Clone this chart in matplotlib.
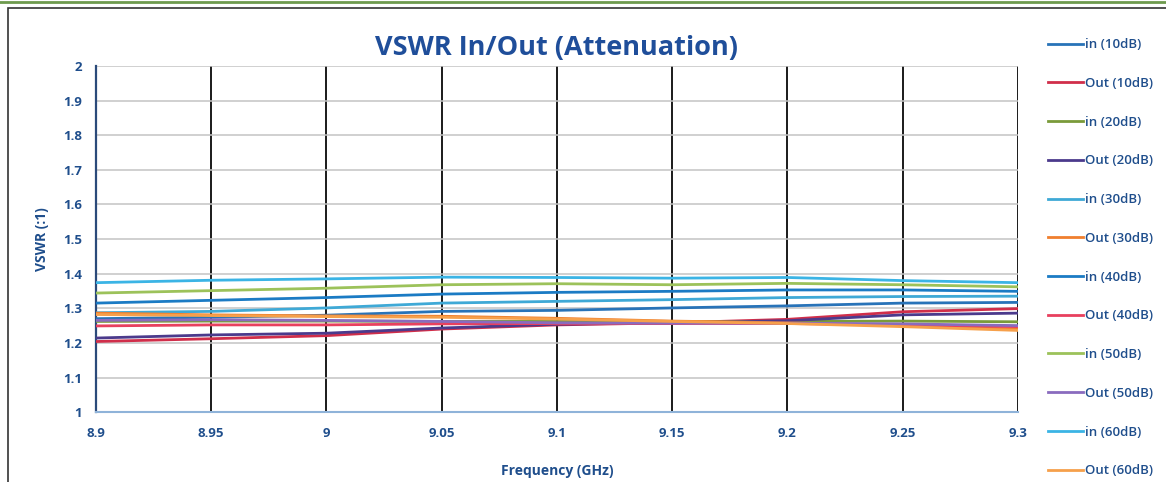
import matplotlib
matplotlib.use('Agg')
import matplotlib.pyplot as plt
from matplotlib.lines import Line2D
from matplotlib.patches import Rectangle

# Frequency points (GHz)
freq = [8.9, 8.95, 9.0, 9.05, 9.1, 9.15, 9.2, 9.25, 9.3]

# VSWR values
in_10 = [1.270, 1.274, 1.280, 1.291, 1.294, 1.301, 1.307, 1.315, 1.317]
out_10 = [1.204, 1.212, 1.221, 1.240, 1.252, 1.258, 1.268, 1.290, 1.299]
in_20 = [1.262, 1.263, 1.263, 1.262, 1.262, 1.261, 1.262, 1.263, 1.261]
out_20 = [1.214, 1.223, 1.228, 1.243, 1.254, 1.258, 1.264, 1.281, 1.286]
in_30 = [1.287, 1.291, 1.301, 1.315, 1.320, 1.325, 1.331, 1.334, 1.335]
out_30 = [1.286, 1.281, 1.278, 1.277, 1.271, 1.263, 1.258, 1.250, 1.240]
in_40 = [1.315, 1.323, 1.331, 1.341, 1.346, 1.349, 1.353, 1.353, 1.349]
out_40 = [1.249, 1.252, 1.252, 1.255, 1.256, 1.256, 1.256, 1.252, 1.247]
in_50 = [1.344, 1.351, 1.358, 1.368, 1.371, 1.368, 1.372, 1.368, 1.362]
out_50 = [1.265, 1.267, 1.265, 1.262, 1.258, 1.257, 1.257, 1.255, 1.250]
in_60 = [1.374, 1.381, 1.385, 1.390, 1.389, 1.387, 1.389, 1.380, 1.374]
out_60 = [1.282, 1.279, 1.276, 1.274, 1.269, 1.262, 1.256, 1.247, 1.236]

labels = ['in (10dB)', 'Out (10dB)', 'in (20dB)', 'Out (20dB)', 'in (30dB)', 'Out (30dB)',
          'in (40dB)', 'Out (40dB)', 'in (50dB)', 'Out (50dB)', 'in (60dB)', 'Out (60dB)']
series = [in_10, out_10, in_20, out_20, in_30, out_30,
          in_40, out_40, in_50, out_50, in_60, out_60]
colors = ['#2873B8', '#D02E4A', '#7A9A3A', '#4B3A8C', '#3FA9D6', '#F07F2E',
          '#1B7BC4', '#E8405E', '#9CC25A', '#8A6BBE', '#3BB4E5', '#F6A04B']

x_ticks = [8.9, 8.95, 9.0, 9.05, 9.1, 9.15, 9.2, 9.25, 9.3]
x_labels = ['8.9', '8.95', '9', '9.05', '9.1', '9.15', '9.2', '9.25', '9.3']
y_ticks = [1, 1.1, 1.2, 1.3, 1.4, 1.5, 1.6, 1.7, 1.8, 1.9, 2]
y_labels = ['1', '1.1', '1.2', '1.3', '1.4', '1.5', '1.6', '1.7', '1.8', '1.9', '2']

plt.rcParams['font.family'] = ['Open Sans', 'DejaVu Sans']
text_col = '#1F4E8C'

fig = plt.figure(figsize=(11.66, 4.82), dpi=100)
ax = fig.add_axes([0.0823, 0.145, 0.7907, 0.718])

# Moldura do gráfico (borda do print)
fig.add_artist(Rectangle((8 / 1166, -0.01), 1.2, 1 - 8 / 482 + 0.01, transform=fig.transFigure,
                         fill=False, edgecolor='#333333', linewidth=1.2))
fig.add_artist(Line2D([0, 1], [1 - 2 / 482, 1 - 2 / 482], transform=fig.transFigure,
                      color='#6E9A4E', linewidth=2))

for ys, lab, c in zip(series, labels, colors):
    ax.plot(freq, ys, color=c, linewidth=2, label=lab, zorder=3)

ax.set_xlim(8.9, 9.3)
ax.set_ylim(1, 2)
ax.set_xticks(x_ticks)
ax.set_xticklabels(x_labels)
ax.set_yticks(y_ticks)
ax.set_yticklabels(y_labels)

# Grade: horizontais cinza, verticais pretas
ax.yaxis.grid(True, color='#C4C4C4', linewidth=1.1, zorder=0)
ax.xaxis.grid(True, color='#1A1A1A', linewidth=1.4, zorder=1)
ax.set_axisbelow(True)

for s in ['top', 'right']:
    ax.spines[s].set_visible(False)
ax.spines['left'].set_color('#2B4A7A')
ax.spines['left'].set_linewidth(1.6)
ax.spines['bottom'].set_color('#8FB3D9')
ax.spines['bottom'].set_linewidth(1.5)
ax.tick_params(axis='x', length=0, labelsize=9.5, labelcolor=text_col, pad=11)
ax.tick_params(axis='y', length=0, labelsize=9.5, labelcolor=text_col, pad=10)
for t in ax.get_xticklabels() + ax.get_yticklabels():
    t.set_fontweight('bold')

ax.set_title('VSWR In/Out (Attenuation)', fontsize=19.5, fontweight='bold', color='#1F4E9A', pad=8)
ax.set_xlabel('Frequency (GHz)', fontsize=10, fontweight='bold', color=text_col, labelpad=17)
ax.set_ylabel('VSWR (:1)', fontsize=10, fontweight='bold', color=text_col, labelpad=10)

handles, labs = ax.get_legend_handles_labels()
leg = fig.legend(handles, labs, loc='upper left', bbox_to_anchor=(1043 / 1166, 1 - 33 / 482),
                 frameon=False, fontsize=9.5, handlelength=2.6, handletextpad=0.15,
                 labelspacing=1.95, borderaxespad=0)
for t in leg.get_texts():
    t.set_color(text_col)
    t.set_fontweight('semibold')

plt.savefig('out.png', dpi=100)
plt.close(fig)
